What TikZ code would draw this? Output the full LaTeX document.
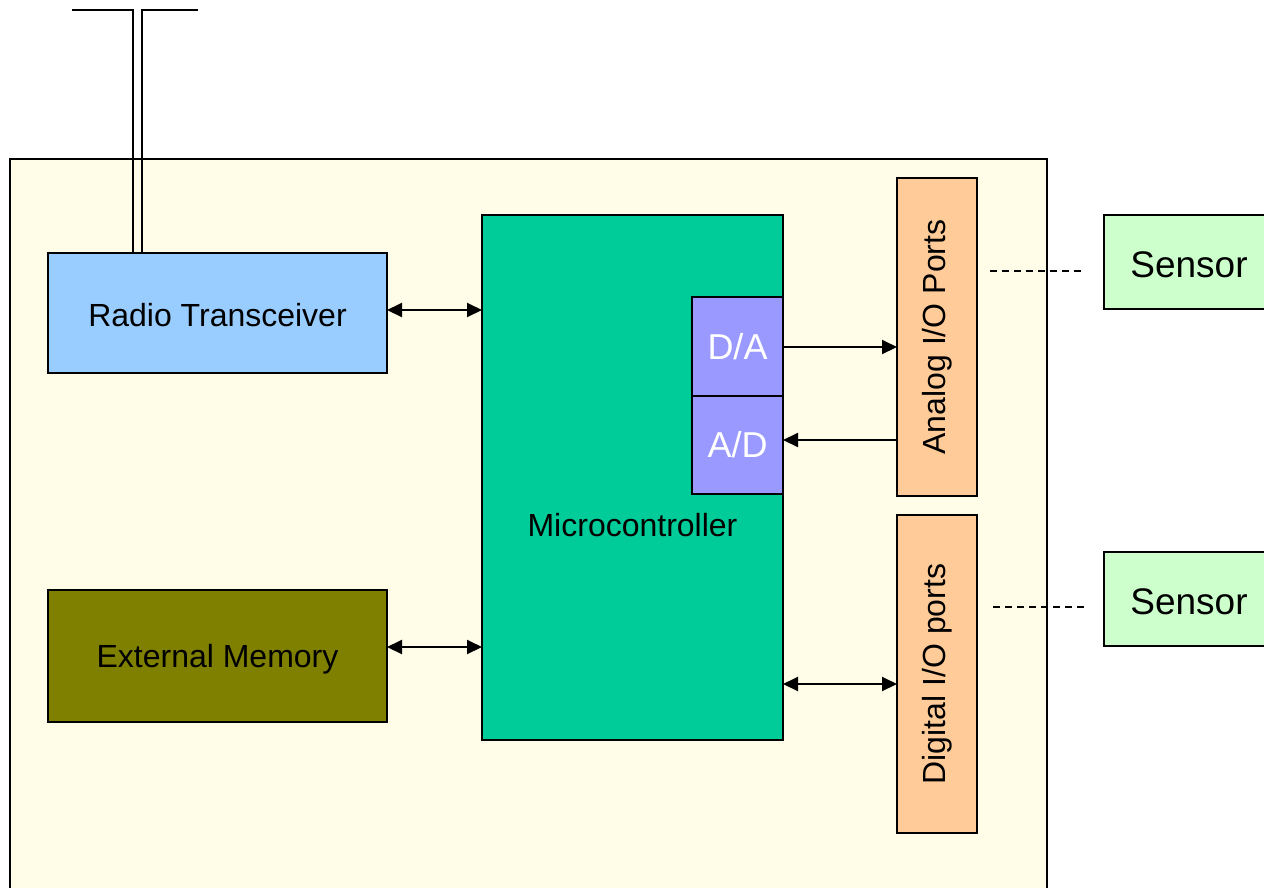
\documentclass[tikz,border=0pt]{standalone}
\usepackage{fontspec}
\setmainfont{Liberation Sans}
\usetikzlibrary{arrows.meta}
\definecolor{boardbg}{HTML}{FFFDE8}
\definecolor{radiofill}{HTML}{99CCFF}
\definecolor{memfill}{HTML}{808000}
\definecolor{mcufill}{HTML}{00CC99}
\definecolor{convfill}{HTML}{9999FF}
\definecolor{portfill}{HTML}{FFCC99}
\definecolor{sensfill}{HTML}{CCFFCC}
\tikzset{
  blk/.style={draw=black, line width=2pt, rectangle, inner sep=0pt, outer sep=0pt,
    font=\fontsize{32}{38}\selectfont, align=center},
  wire/.style={draw=black, line width=2pt},
  uni/.style={wire, -{Triangle[length=15pt,width=14pt]}},
  bi/.style={wire, {Triangle[length=15pt,width=14pt]}-{Triangle[length=15pt,width=14pt]}},
  link/.style={draw=black, line width=1.5pt, dash pattern=on 7pt off 5pt},
}
\begin{document}
\begin{tikzpicture}[x=1pt,y=-1pt]
\useasboundingbox (0,0) rectangle (1264,887);
\clip (0,0) rectangle (1264,887);
\fill[white] (0,0) rectangle (1264,887);

% board outline (runs past the lower edge)
\draw[line width=2pt, fill=boardbg] (10,159) rectangle (1047,920);

% functional blocks
\node[blk, fill=radiofill, minimum width=339pt, minimum height=120pt] (radio) at (217.5,313) {};
\node[font=\fontsize{32}{38}\selectfont] (radiolbl) at (217.5,315) {Radio Transceiver};
\node[blk, fill=memfill, minimum width=339pt, minimum height=132pt] (mem) at (217.5,656) {};
\node[font=\fontsize{32}{38}\selectfont] (memlbl) at (217.5,659) {External Memory};
\node[blk, fill=mcufill, minimum width=301pt, minimum height=525pt] (mcu) at (632.5,477.5) {};
\node[font=\fontsize{32}{38}\selectfont] (mculbl) at (632.5,525) {Microcontroller};
\node[blk, fill=convfill, text=white, font=\fontsize{36}{42}\selectfont, minimum width=91pt, minimum height=99pt] (da) at (737.5,346.5) {D/A};
\node[blk, fill=convfill, text=white, font=\fontsize{36}{42}\selectfont, minimum width=91pt, minimum height=98pt] (ad) at (737.5,445) {A/D};
\node[blk, fill=portfill, minimum width=80pt, minimum height=318pt] (aport) at (937,337) {\rotatebox{90}{Analog I/O Ports}};
\node[blk, fill=portfill, minimum width=80pt, minimum height=318pt] (dport) at (937,674) {\rotatebox{90}{Digital I/O ports}};

% sensors (cut by the right edge)
\node[blk, fill=sensfill, minimum width=200pt, minimum height=94pt] (sens1) at (1204,262) {};
\node[font=\fontsize{37}{44}\selectfont] (s1lbl) at (1189,265) {Sensor};
\node[blk, fill=sensfill, minimum width=200pt, minimum height=94pt] (sens2) at (1204,599) {};
\node[font=\fontsize{37}{44}\selectfont] (s2lbl) at (1189,602) {Sensor};

% antenna
\coordinate (antL) at (72,10);
\coordinate (antR) at (198,10);
\draw[wire] (antL) -- (132.5,10) -- (radio.north -| 132.5,0);
\draw[wire] (antR) -- (142,10) -- (radio.north -| 142,0);

% data paths
\draw[bi] (radio.east |- 0,310) -- (mcu.west |- 0,310);
\draw[bi] (mem.east |- 0,647) -- (mcu.west |- 0,647);
\draw[uni] (da.east |- 0,347) -- (aport.west |- 0,347);
\draw[uni] (aport.west |- 0,440) -- (ad.east |- 0,440);
\draw[bi] (mcu.east |- 0,684) -- (dport.west |- 0,684);

% sensor links
\coordinate (l1a) at (990,271);
\coordinate (l1b) at (1084,271);
\coordinate (l2a) at (993,607);
\coordinate (l2b) at (1086,607);
\draw[link] (l1a) -- (l1b);
\draw[link] (l2a) -- (l2b);
\end{tikzpicture}
\end{document}
